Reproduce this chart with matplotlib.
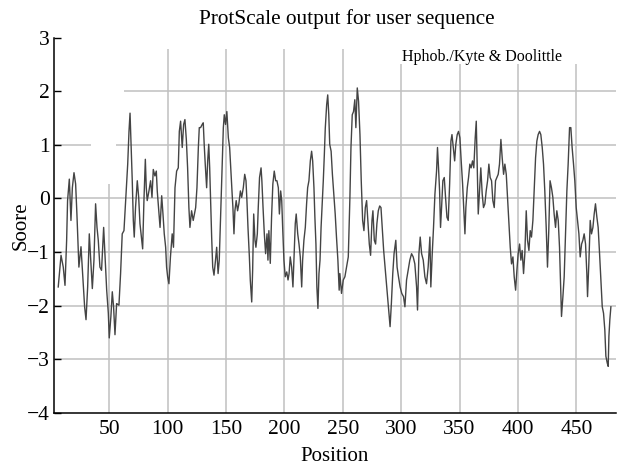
import matplotlib
matplotlib.use("Agg")
import matplotlib.pyplot as plt

plt.rcParams['font.family'] = ['Liberation Serif', 'DejaVu Serif']
plt.rcParams['axes.unicode_minus'] = True

# ---- data (position, Kyte & Doolittle score) ----
pos_a = [6.3, 8.7, 10.6, 12.1, 13.5, 14.3, 15.8, 17.2, 18.4, 19.8,
         21.2, 22.3, 24.0, 25.8, 27.5, 28.9, 30.1, 31.5, 32.9, 34.0,
         35.5, 36.9, 38.3, 39.5, 40.6, 42.0, 43.4, 45.2, 46.3, 47.8,
         49.2, 50.0, 51.4, 52.6, 53.7, 54.9, 56.3, 58.3, 59.7, 61.1, 62.6]
score_a = [-1.65, -1.06, -1.28, -1.62, -0.78, -0.04, 0.36, -0.41, 0.20, 0.48,
           0.27, -0.29, -1.28, -0.90, -1.52, -2.02, -2.26, -1.65, -0.66, -1.09,
           -1.68, -1.15, -0.10, -0.54, -0.78, -1.28, -1.34, -0.54, -1.03, -1.71,
           -2.14, -2.60, -2.20, -1.74, -2.02, -2.54, -1.96, -1.99, -1.40, -0.66, -0.60]

pos_b = [64.2, 65.8, 66.9, 67.8, 68.6, 69.7, 70.6, 71.4, 72.5, 74.0,
         75.2, 76.3, 77.5, 78.6, 79.7, 80.9, 81.7, 82.5, 84.0, 85.4,
         86.6, 87.7, 89.1, 90.3, 91.1, 92.2, 93.5, 94.9, 96.0, 97.1,
         98.3, 99.1, 100.0, 101.1, 102.4, 103.9, 105.0, 106.3, 107.7, 109.1,
         110.0, 111.1, 112.5, 113.7, 114.8, 116.0, 117.1, 118.2, 119.1, 120.5,
         121.9, 122.7, 124.0, 125.1, 126.3, 127.1]
score_b = [0.02, 0.64, 1.25, 1.59, 1.07, 0.33, -0.41, -0.72, -0.17, 0.33,
           0.02, -0.47, -0.72, -0.94, -0.04, 0.73, 0.20, -0.04, 0.14, 0.33,
           0.02, 0.54, 0.42, 0.51, 0.14, -0.17, -0.54, 0.05, -0.29, -0.66,
           -0.91, -1.28, -1.46, -1.59, -1.09, -0.66, -0.91, 0.20, 0.51, 0.57,
           1.25, 1.44, 0.95, 1.38, 1.47, 1.10, 0.57, -0.17, -0.54, -0.23,
           -0.41, -0.32, -0.17, 0.20, 0.95, 1.32]

pos_c = [128.2, 129.6, 130.5, 131.3, 132.2, 133.4, 134.3, 135.2, 136.0, 136.9,
         137.7, 138.6, 139.7, 141.0, 142.0, 143.2, 144.2, 145.4, 146.5, 147.7,
         148.5, 149.6, 150.7, 152.0, 153.1, 154.0, 155.1, 155.9, 156.8, 157.6,
         158.7, 159.9, 161.0, 162.3, 163.4, 164.8, 166.0, 167.1, 167.9, 168.8,
         170.0, 170.8, 172.0, 172.8, 173.7, 174.8, 175.6, 176.8, 177.6, 178.7,
         180.0, 180.7, 181.7, 182.8, 183.9]
score_c = [1.32, 1.38, 1.41, 1.01, 0.64, 0.20, 0.70, 1.01, 0.57, -0.10,
           -0.72, -1.28, -1.43, -1.15, -0.91, -1.40, -1.15, -0.29, 0.51, 1.32,
           1.56, 1.38, 1.62, 1.13, 0.95, 0.57, 0.14, -0.17, -0.66, -0.23,
           -0.04, -0.23, -0.10, 0.14, 0.02, 0.20, 0.45, 0.33, -0.04, -0.54,
           -1.09, -1.53, -1.93, -1.34, -0.29, -0.78, -0.91, -0.66, -0.17, 0.39,
           0.57, 0.33, -0.17, -0.66, -1.03]

pos_d = [185.1, 185.9, 186.7, 187.9, 189.0, 190.1, 191.3, 192.5, 193.6, 194.8,
         195.7, 196.8, 197.7, 198.5, 199.6, 200.7, 202.0, 203.1, 204.0, 205.0,
         206.2, 207.3, 208.4, 209.3, 210.1, 211.4, 212.5, 213.6, 214.8, 215.6,
         216.7, 217.9, 219.0, 219.9, 221.0, 222.2, 223.3, 224.2, 225.3, 226.1,
         227.0, 227.8, 228.7, 229.6, 230.5, 231.4, 232.5, 233.3, 234.2, 235.0,
         236.2, 237.1, 238.0, 238.8, 240.0, 241.1, 242.3, 243.5, 244.6, 245.8, 246.9]
score_d = [-0.66, -1.15, -0.60, -1.21, -0.35, 0.27, 0.51, 0.33, 0.33, 0.20,
           -0.29, 0.14, -0.04, -0.54, -1.15, -1.46, -1.37, -1.52, -1.40, -1.09,
           -1.28, -1.65, -1.03, -0.47, -0.29, -0.66, -0.85, -1.09, -1.65, -1.15,
           -0.78, -0.54, -0.10, 0.20, 0.33, 0.70, 0.88, 0.70, 0.20, -0.35,
           -0.85, -1.65, -2.05, -1.40, -1.15, -0.54, -0.04, 0.33, 0.82, 1.31,
           1.75, 1.93, 1.56, 1.01, 0.88, 0.45, 0.08, -0.29, -0.72, -1.15, -1.71]

pos_e = [247.5, 248.9, 250.4, 251.8, 253.2, 254.7, 256.1, 257.0, 258.1, 259.2,
         260.3, 261.2, 262.4, 263.5, 264.7, 265.8, 267.0, 268.1, 269.3, 270.4,
         271.6, 272.7, 273.8, 275.0, 275.8, 277.0, 278.1, 279.2, 280.4, 281.6,
         282.7, 283.9, 285.0, 286.2, 287.6, 289.0, 290.5, 291.6, 292.8, 293.9,
         295.4, 296.5, 297.7, 299.1, 300.5, 302.0]
score_e = [-1.40, -1.77, -1.52, -1.46, -1.28, -1.09, 0.02, 0.95, 1.56, 1.62,
           1.84, 1.32, 2.06, 1.81, 1.19, 0.33, -0.41, -0.60, -0.17, -0.04,
           -0.47, -0.85, -1.06, -0.41, -0.23, -0.78, -0.85, -0.47, -0.23, -0.14,
           -0.17, -0.60, -0.97, -1.28, -1.65, -2.02, -2.39, -1.96, -1.40, -1.03,
           -0.78, -1.28, -1.46, -1.65, -1.77, -1.83]

pos_f = [303.2, 304.6, 306.0, 307.4, 308.9, 310.3, 311.7, 313.2, 314.0, 315.2,
         316.3, 317.5, 318.9, 320.3, 321.7, 323.1, 324.6, 325.4, 326.6, 327.7,
         328.9, 330.3, 331.1, 332.0, 332.9, 333.7, 334.6, 335.7, 336.9, 338.0,
         339.2, 340.3, 341.5, 342.6, 343.5, 344.6, 345.8, 346.8, 348.0, 349.1,
         350.3, 351.4, 352.6, 353.7, 354.6, 355.4, 356.6, 357.7, 358.8, 359.9,
         361.1, 362.2, 363.4, 364.3]
score_f = [-2.02, -1.52, -1.34, -1.15, -1.03, -1.09, -1.22, -1.65, -2.08, -1.03,
           -0.72, -1.03, -1.15, -1.46, -1.59, -1.28, -0.72, -1.65, -1.03, -0.54,
           0.08, 0.51, 0.95, 0.57, 0.14, -0.54, -0.17, 0.33, 0.39, 0.02,
           -0.35, -0.41, 0.27, 1.07, 1.19, 0.95, 0.70, 1.01, 1.19, 1.25,
           1.13, 0.70, 0.27, -0.23, -0.66, -0.17, 0.20, 0.39, 0.64, 0.57,
           0.70, 0.57, 1.13, 1.44]

pos_g = [365.4, 366.0, 367.1, 368.2, 369.4, 370.5, 371.7, 372.8, 374.0, 375.1,
         376.2, 377.4, 378.5, 379.7, 380.8, 382.0, 383.1, 384.2, 385.4, 386.5,
         387.7, 388.8, 390.0, 391.1, 392.2, 393.4, 394.5, 395.7, 396.8, 398.0,
         399.1, 400.2, 401.4, 402.5, 403.6, 404.8, 405.9, 407.1, 408.2, 409.4,
         410.5, 411.6, 412.8, 413.9, 415.1, 416.2, 417.3, 418.5, 419.6, 420.8,
         421.9, 423.0, 424.2, 425.3]
score_g = [0.33, -0.29, 0.14, 0.57, 0.08, -0.17, -0.10, 0.14, 0.33, 0.64,
           0.39, 0.33, -0.04, -0.17, 0.33, 0.39, 0.45, 0.64, 1.10, 0.76,
           0.45, 0.64, 0.45, 0.02, -0.41, -0.91, -1.22, -1.09, -1.46, -1.71,
           -1.34, -1.03, -0.85, -1.15, -0.97, -1.40, -1.03, -0.23, -0.78, -0.97,
           -0.60, -0.72, -0.41, 0.14, 0.76, 1.07, 1.19, 1.25, 1.19, 0.95,
           0.64, 0.14, -0.54, -1.28]

pos_h = [426.4, 427.5, 428.7, 429.9, 431.0, 432.2, 433.3, 434.5, 435.6, 436.7,
         437.3, 438.5, 439.6, 440.7, 441.9, 443.0, 444.2, 445.3, 446.4, 447.6,
         448.7, 449.9, 451.0, 452.2, 453.3, 454.5, 455.6, 456.7, 457.9, 459.0,
         459.6, 460.7, 461.9, 463.0, 464.2, 465.3, 466.4, 467.6, 468.7, 469.9,
         471.0, 472.2, 473.3, 474.4, 475.3, 476.5, 477.3, 477.9, 478.7, 479.6]
score_h = [-0.60, 0.33, 0.20, 0.02, -0.29, -0.54, -0.23, -0.41, -0.91, -1.77,
           -2.20, -1.83, -1.46, -0.72, 0.14, 0.64, 1.32, 1.32, 0.95, 0.64,
           0.33, -0.17, -0.41, -0.66, -1.09, -0.85, -0.78, -0.66, -0.85, -1.40,
           -1.83, -1.22, -0.41, -0.66, -0.54, -0.29, -0.10, -0.35, -0.54, -1.03,
           -1.52, -2.02, -2.14, -2.45, -2.94, -3.07, -3.13, -2.57, -2.26, -2.02]

x_ticks = [50, 100, 150, 200, 250, 300, 350, 400, 450]
y_ticks = [-4, -3, -2, -1, 0, 1, 2, 3]

title = "ProtScale output for user sequence"
scale_name = "Hphob./Kyte & Doolittle"
x_label = "Position"
y_label = "Soore"

positions = pos_a + pos_b + pos_c + pos_d + pos_e + pos_f + pos_g + pos_h
scores = score_a + score_b + score_c + score_d + score_e + score_f + score_g + score_h

# ---- figure ----
fig = plt.figure(figsize=(6.19, 4.66), dpi=100)
ax = fig.add_axes([0.0869, 0.1137, 0.9083, 0.8058])
ax.set_xlim(2.5, 484)
ax.set_ylim(-4, 3)

grid_kw = dict(color='#c0c0c0', lw=1.1, zorder=1)
for yv in [-3, -2, -1, 0]:
    ax.hlines(yv, 2.5, 484, **grid_kw)
ax.hlines(1, 2.5, 34, **grid_kw)
ax.hlines(1, 56, 484, **grid_kw)
ax.hlines(2, 63, 484, **grid_kw)
for xv in x_ticks:
    top = 0.27 if xv == 50 else (2.78 if xv <= 250 else 2.5)
    ax.vlines(xv, -4, top, **grid_kw)

ax.plot(positions, scores, color='#444444', lw=1.0, zorder=3)

ax.spines['top'].set_visible(False)
ax.spines['right'].set_visible(False)
ax.spines['left'].set_linewidth(1.1)
ax.spines['bottom'].set_linewidth(1.1)

ax.set_xticks(x_ticks)
ax.set_yticks(y_ticks)
ax.tick_params(axis='x', length=0, labelsize=15.5, pad=5)
ax.tick_params(axis='y', direction='in', length=5, width=1.0, labelsize=15.5, pad=3)

fig.text(347 / 619, 1 - 19 / 466, title, fontsize=15.3, ha='center', va='center')
ax.set_xlabel(x_label, fontsize=15, labelpad=6)
ax.set_ylabel(y_label, fontsize=15)
ax.yaxis.set_label_coords(-0.042, 0.5)
ax.text(0.619, 0.948, scale_name, transform=ax.transAxes, fontsize=11.5,
        ha='left', va='center')

fig.savefig("out.png", dpi=100)
